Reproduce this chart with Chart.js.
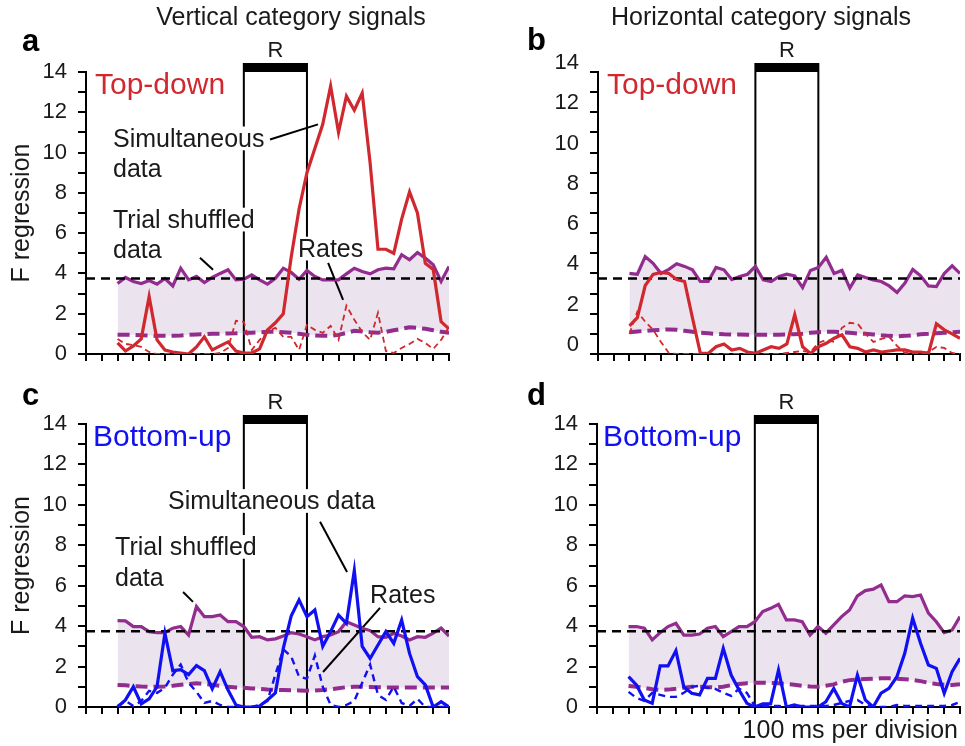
<!DOCTYPE html>
<html><head><meta charset="utf-8">
<script src="https://cdn.jsdelivr.net/npm/chart.js@4.4.0/dist/chart.umd.min.js"></script>
<style>
html,body{margin:0;padding:0;background:#fff;width:965px;height:746px;overflow:hidden}
canvas{position:absolute}
</style></head><body>
<canvas id="pa"></canvas><canvas id="pb"></canvas><canvas id="pc"></canvas><canvas id="pd"></canvas>
<script>
// time bins in divisions (100 ms per division)
const timeBins = [2,2.5,3,3.5,4,4.5,5,5.5,6,6.5,7,7.5,8,8.5,9,9.5,10,10.5,11,11.5,12,12.5,13,13.5,14,14.5,15,15.5,16,16.5,17,17.5,18,18.5,19,19.5,20,20.5,21,21.5,22,22.5,23];
const xRange = [0, 23];
const yRange = [0, 14];
const thresholdLevel = 3.75;
const responsePeriod = [10, 14];

// a: vertical, top-down
const aSimultaneous = [0.55,0.15,0.4,0.75,2.85,0.7,0.2,0.1,0.05,0.0,0.35,0.85,0.2,0.4,0.6,0.15,0.05,0.05,0.25,1.2,1.55,2.0,4.8,7.2,9.0,10.2,11.4,13.3,11.0,12.8,12.1,12.95,9.5,5.2,5.2,5.0,6.7,8.05,7.0,4.5,4.2,1.6,1.25];
const aRates = [0.75,0.5,0.45,0.35,0.1,0,0,0,0,0,0,0,0,0.05,0.3,1.65,1.6,0.2,0.7,1.1,1.3,0.85,0.85,0.2,1.45,1.2,1.05,1.4,0.7,2.4,1.7,1.1,0.7,2.05,0.15,0.05,0.3,0.5,0.75,0.55,0.25,0.7,1.35];
const aShuffled = [3.5,3.8,3.6,3.5,3.65,3.47,3.75,3.38,4.26,3.68,3.85,3.55,3.8,4.0,4.18,3.68,3.71,3.93,3.68,3.47,3.76,4.26,4.05,3.71,4.15,3.85,3.68,3.68,3.68,3.98,4.26,4.1,3.98,4.18,4.26,4.23,4.93,4.68,5.04,4.76,4.43,3.6,4.35];
const aShuffledRates = [0.95,0.95,0.95,0.93,0.92,0.9,0.9,0.9,0.92,0.95,0.97,0.98,1.0,1.0,1.02,1.03,1.05,1.06,1.08,1.1,1.1,1.08,1.05,1.0,0.95,0.92,0.9,0.9,0.95,1.05,1.15,1.12,1.08,1.06,1.1,1.18,1.25,1.33,1.3,1.25,1.18,1.1,1.06];

// b: horizontal, top-down
const bSimultaneous = [1.4,1.8,3.4,3.95,4.05,4.0,3.7,3.6,1.8,0.05,0.03,0.36,0.5,0.2,0.28,0.1,0.03,0.2,0.36,0.28,0.5,1.95,0.36,0.03,0.36,0.53,0.78,0.95,0.36,0.28,0.1,0.2,0.1,0.15,0.2,0.2,0.1,0.1,0.03,1.5,1.2,1.0,0.78];
const bRates = [1.0,2.1,1.6,1.2,0.6,0.05,0,0,0,0,0,0,0,0,0,0,0,0,0,0,0.05,0.1,0.15,0.1,0.55,0.7,0.6,1.3,1.55,1.5,1.0,0.6,0.75,0.85,0.4,0.05,0.05,0.05,0.1,0.35,0.3,0.05,0];
const bShuffled = [4.0,3.96,4.84,4.5,4.0,4.2,4.48,4.35,4.18,3.6,3.6,4.3,4.18,3.7,3.85,3.96,4.35,3.68,3.6,3.85,3.96,3.88,3.3,4.15,4.3,4.8,4.0,4.15,3.27,3.93,3.8,3.68,3.6,3.38,3.05,3.52,4.2,3.88,3.38,3.35,4.0,4.38,4.0];
const bShuffledRates = [1.08,1.12,1.15,1.18,1.2,1.22,1.2,1.15,1.1,1.06,1.03,1.0,0.98,0.97,0.97,0.96,0.96,0.95,0.95,0.95,0.97,0.98,1.0,1.05,1.08,1.1,1.1,1.08,1.05,1.02,1.0,0.97,0.93,0.9,0.88,0.9,0.93,0.98,1.0,1.03,1.05,1.08,1.1];

// c: vertical, bottom-up
const cSimultaneous = [0,0.35,1.0,0.15,0.4,1.0,3.65,1.8,1.85,1.6,2.05,1.8,0.9,1.75,0.84,0.1,0,0,0.05,0.35,0.7,2.9,4.5,5.3,4.47,4.8,3.0,3.73,4.55,4.14,6.75,3.0,2.4,3.07,3.73,3.15,4.3,2.65,1.5,1.09,0,0.26,0];
const cRates = [0.05,0.3,0.05,0.3,0.8,0.7,0.95,1.6,2.1,1.2,0.75,0.2,0.3,0.1,0,0,0,0,0.1,0.3,1.6,2.85,2.5,1.5,1.4,2.55,1.0,0.1,0,0.1,0.3,1.2,2.1,0.6,0.35,1.0,0.2,0.05,0.4,0,0,0,0];
const cShuffled = [4.27,4.26,3.98,3.98,3.73,3.68,3.68,3.9,3.98,3.56,4.97,4.47,4.47,4.55,4.22,4.22,3.98,3.45,3.48,3.32,3.37,3.51,3.68,3.61,3.48,3.32,3.48,3.56,3.73,4.22,4.06,3.9,3.78,3.48,3.45,3.65,3.51,3.32,3.48,3.45,3.65,3.9,3.51];
const cShuffledRates = [1.09,1.07,1.04,1.01,1.0,1.0,1.02,1.05,1.1,1.14,1.17,1.14,1.1,1.05,1.0,0.97,0.95,0.92,0.9,0.87,0.85,0.84,0.83,0.82,0.81,0.82,0.84,0.88,0.93,0.98,1.0,1.0,0.99,0.98,0.97,0.97,0.97,0.97,0.97,0.97,0.97,0.97,0.97];

// d: horizontal, bottom-up
const dSimultaneous = [1.5,1.09,0.35,0.18,2.03,2.03,2.79,1.0,0.68,0.6,1.42,1.42,2.9,1.58,0.84,0.18,0,0.15,0.15,1.83,0,0.1,0,0,0,0.26,0.92,0.18,0,1.58,0.35,0,0.68,0.92,1.5,2.66,4.39,3.15,2.08,1.91,0.68,1.75,2.41];
const dRates = [0.75,0.45,0.3,0.7,0.6,0.5,0.5,0.7,1.0,1.05,0.95,0.9,0.7,0.55,0.9,0.7,0.05,0.05,0.05,0.05,0,0.05,0.05,0.05,0.05,0.05,0.1,0.2,0.3,0.35,0.1,0,0,0,0.1,0.05,0.05,0.05,0.05,0.05,0.05,0.1,0.25];
const dShuffled = [3.98,3.98,3.9,3.32,3.68,3.98,4.14,3.56,3.56,3.61,3.9,3.98,3.48,3.73,3.98,3.98,4.22,4.72,4.88,5.08,4.31,4.31,4.22,3.56,3.98,3.65,4.06,4.47,4.8,5.5,5.76,5.83,6.04,5.21,5.21,5.5,5.46,5.54,4.64,4.22,3.68,3.81,4.47];
const dShuffledRates = [1.04,1.0,0.95,0.88,0.85,0.86,0.9,0.95,1.0,1.0,0.98,0.97,1.0,1.08,1.14,1.18,1.2,1.2,1.19,1.17,1.14,1.1,1.05,1.01,1.0,1.05,1.12,1.25,1.33,1.36,1.38,1.4,1.42,1.42,1.4,1.37,1.34,1.28,1.2,1.14,1.1,1.09,1.12];

const FONT = "'Liberation Sans', Arial, Helvetica, sans-serif";
const INK = '#1a1a1a';
const RED = '#d0282e';
const BLUE = '#1010f2';
const PURPLE = '#922c8e';
const SHADE = '#ebe3ee';

function toXY(arr){ return timeBins.map((t,i)=>({x:t, y:arr[i]})); }

function makePanel(cfg){
  const cv = document.getElementById(cfg.id);
  cv.width = cfg.w; cv.height = cfg.h;
  cv.style.left = cfg.left + 'px'; cv.style.top = cfg.top + 'px';

  const annot = {
    id: 'annot_' + cfg.id,
    beforeDatasetsDraw(chart){
      const {ctx, scales:{x, y}} = chart;
      ctx.save();
      // response period box
      const x0 = x.getPixelForValue(responsePeriod[0]);
      const x1 = x.getPixelForValue(responsePeriod[1]);
      const yt = y.getPixelForValue(yRange[1]);
      const yb = y.getPixelForValue(yRange[0]);
      ctx.strokeStyle = '#000'; ctx.lineWidth = 2;
      ctx.beginPath();
      ctx.moveTo(x0, yb); ctx.lineTo(x0, yt);
      ctx.moveTo(x1, yt); ctx.lineTo(x1, yb);
      ctx.stroke();
      ctx.fillStyle = '#000';
      ctx.fillRect(x0 - 1, yt - 9, x1 - x0 + 2, 9);
      ctx.fillStyle = INK;
      ctx.font = '22px ' + FONT;
      ctx.textAlign = 'center'; ctx.textBaseline = 'alphabetic';
      ctx.fillText('R', (x0 + x1) / 2, yt - 15);
      // texts
      for (const t of cfg.texts){
        const size = t.size || 25;
        ctx.font = size + 'px ' + FONT;
        ctx.textAlign = 'left';
        const px = x.getPixelForValue(t.x), py = y.getPixelForValue(t.y);
        const w = ctx.measureText(t.text).width;
        if (t.bg){ ctx.fillStyle = '#fff'; ctx.fillRect(px - 2, py - 0.8*size, w + 4, 0.95*size); }
        ctx.fillStyle = t.color || INK;
        ctx.fillText(t.text, px, py);
      }
      // leader lines
      ctx.strokeStyle = '#000'; ctx.lineWidth = 2;
      for (const l of cfg.leaders){
        ctx.beginPath();
        ctx.moveTo(x.getPixelForValue(l[0]), y.getPixelForValue(l[1]));
        ctx.lineTo(x.getPixelForValue(l[2]), y.getPixelForValue(l[3]));
        ctx.stroke();
      }
      ctx.restore();
    },
    afterDraw(chart){
      const ctx = chart.ctx;
      ctx.save();
      ctx.fillStyle = INK; ctx.textBaseline = 'alphabetic';
      if (cfg.title){
        ctx.font = '25px ' + FONT; ctx.textAlign = 'center';
        ctx.fillText(cfg.title, cfg.titleX, 25);
      }
      ctx.font = 'bold 31px ' + FONT; ctx.textAlign = 'left'; ctx.fillStyle = '#000';
      ctx.fillText(cfg.letter, cfg.letterX, cfg.letterY);
      if (cfg.footer){
        ctx.fillStyle = INK; ctx.font = '25px ' + FONT; ctx.textAlign = 'right';
        ctx.fillText(cfg.footer, cfg.w - 7, cfg.h - 8);
      }
      ctx.restore();
    }
  };

  const axisCommon = {
    border: {display: true, color: '#000', width: 2},
  };

  new Chart(cv, {
    type: 'line',
    data: { datasets: [
      {data: toXY(cfg.sim), borderColor: cfg.color, borderWidth: 3.2, pointRadius: 0, tension: 0, fill: false},
      {data: toXY(cfg.rates), borderColor: cfg.color, borderWidth: cfg.rateWidth, borderDash: cfg.rateDash, pointRadius: 0, tension: 0, fill: false},
      {data: [{x: xRange[0], y: thresholdLevel}, {x: xRange[1], y: thresholdLevel}], borderColor: '#000', borderWidth: 2.4, borderDash: [9,6], pointRadius: 0, fill: false},
      {data: toXY(cfg.shuf), borderColor: PURPLE, borderWidth: 3.2, pointRadius: 0, tension: 0, fill: '+1', backgroundColor: SHADE},
      {data: toXY(cfg.shufRates), borderColor: PURPLE, borderWidth: 4, borderDash: [12,6], pointRadius: 0, tension: 0, fill: false}
    ]},
    options: {
      responsive: false, animation: false, devicePixelRatio: 1,
      layout: {padding: {left: 0, top: cfg.padTop, right: cfg.padRight, bottom: cfg.padBottom}},
      plugins: {legend: {display: false}, tooltip: {enabled: false}, filler: {drawTime: 'beforeDatasetsDraw'}},
      scales: {
        x: Object.assign({}, axisCommon, {
          type: 'linear', min: xRange[0], max: xRange[1],
          afterFit: s => { s.height = 16; s.paddingLeft = 0; s.paddingRight = 0; },
          ticks: {display: false, stepSize: 1, autoSkip: false},
          grid: {drawOnChartArea: false, drawTicks: true, tickLength: 7, tickColor: '#000', tickWidth: 2, color: '#000', lineWidth: 2}
        }),
        y: Object.assign({}, axisCommon, {
          min: yRange[0], max: yRange[1],
          afterFit: s => { s.width = cfg.yWidth; s.paddingTop = 0; s.paddingBottom = 0; },
          title: {display: !!cfg.yTitle, text: 'F regression', color: INK, font: {family: FONT, size: 25}, padding: {top: 7, bottom: 0}},
          ticks: {stepSize: 1, autoSkip: false, padding: 11, labelOffset: cfg.labelOffset || 0, color: INK,
                  font: {family: FONT, size: 22}, callback: v => (v % 2 === 0 ? String(v) : '')},
          grid: {drawOnChartArea: false, drawTicks: true, tickLength: 8, tickColor: '#000', tickWidth: 2, color: '#000', lineWidth: 2}
        })
      }
    },
    plugins: [annot]
  });
}

makePanel({
  id: 'pa', left: 0, top: 0, w: 482, h: 373, yWidth: 86, padTop: 72, padRight: 33, padBottom: 3,
  sim: aSimultaneous, rates: aRates, shuf: aShuffled, shufRates: aShuffledRates,
  color: RED, rateWidth: 1.8, rateDash: [6,4], yTitle: true,
  title: 'Vertical category signals', titleX: 291, letter: 'a', letterX: 22, letterY: 51,
  texts: [
    {text: 'Top-down', x: 0.57, y: 12.89, size: 30, color: RED},
    {text: 'Simultaneous', x: 1.71, y: 10.3, bg: true},
    {text: 'data', x: 1.71, y: 8.8},
    {text: 'Trial shuffled', x: 1.71, y: 6.27, bg: true},
    {text: 'data', x: 1.71, y: 4.78},
    {text: 'Rates', x: 13.43, y: 4.83, bg: true}
  ],
  leaders: [[11.66,10.65,14.7,11.4],[7.22,4.78,8.05,4.18],[15.34,4.53,16.29,2.69]]
});

makePanel({
  id: 'pb', left: 490, top: 0, w: 475, h: 373, yWidth: 108, padTop: 72, padRight: 5, padBottom: 3,
  sim: bSimultaneous, rates: bRates, shuf: bShuffled, shufRates: bShuffledRates,
  color: RED, rateWidth: 1.8, rateDash: [6,4], yTitle: false, labelOffset: -9,
  title: 'Horizontal category signals', titleX: 271, letter: 'b', letterX: 37, letterY: 50,
  texts: [
    {text: 'Top-down', x: 0.57, y: 12.89, size: 30, color: RED}
  ],
  leaders: []
});

makePanel({
  id: 'pc', left: 0, top: 373, w: 482, h: 373, yWidth: 86, padTop: 51, padRight: 33, padBottom: 23,
  sim: cSimultaneous, rates: cRates, shuf: cShuffled, shufRates: cShuffledRates,
  color: BLUE, rateWidth: 2.4, rateDash: [7,5], yTitle: true,
  letter: 'c', letterX: 22, letterY: 32,
  texts: [
    {text: 'Bottom-up', x: 0.44, y: 12.89, size: 30, color: BLUE},
    {text: 'Simultaneous data', x: 5.2, y: 9.79, bg: true},
    {text: 'Trial shuffled', x: 1.84, y: 7.52, bg: true},
    {text: 'data', x: 1.84, y: 5.99},
    {text: 'Rates', x: 18.0, y: 5.16, bg: true}
  ],
  leaders: [[14.83,9.16,16.54,6.68],[6.15,5.69,6.78,5.2],[18.63,4.9,15.02,1.73]]
});

makePanel({
  id: 'pd', left: 490, top: 373, w: 475, h: 373, yWidth: 107, padTop: 51, padRight: 5, padBottom: 23,
  sim: dSimultaneous, rates: dRates, shuf: dShuffled, shufRates: dShuffledRates,
  color: BLUE, rateWidth: 2.4, rateDash: [7,5], yTitle: false,
  letter: 'd', letterX: 37, letterY: 32, footer: '100 ms per division',
  texts: [
    {text: 'Bottom-up', x: 0.38, y: 12.89, size: 30, color: BLUE}
  ],
  leaders: []
});
</script>
</body></html>
